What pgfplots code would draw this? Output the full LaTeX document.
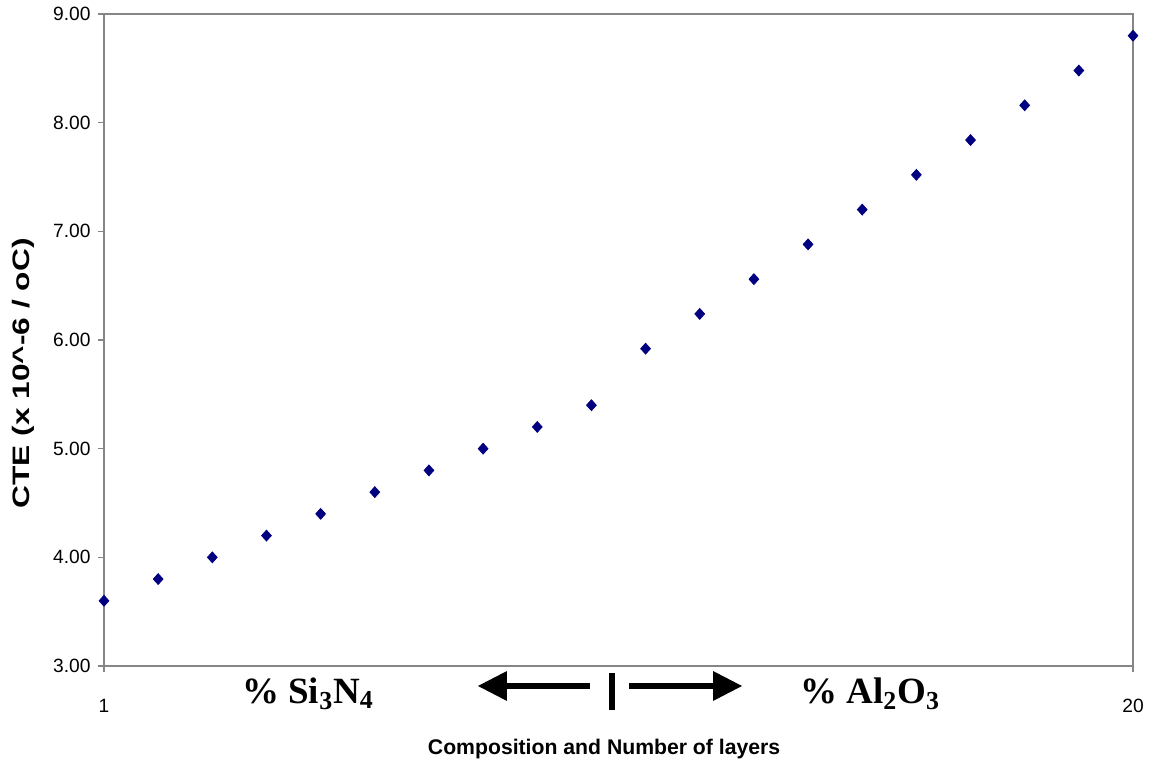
\documentclass[border=0pt]{standalone}
\usepackage{pgfplots}
\pgfplotsset{compat=1.18}
\usepackage{graphicx}
\usepackage{fontspec}
\setmainfont{Liberation Sans}
\newfontfamily\timesfont{Liberation Serif}
\definecolor{navy}{RGB}{0,0,128}
\definecolor{axgray}{RGB}{134,134,134}
\begin{document}
\begin{tikzpicture}
\path[use as bounding box] (-52pt,-51.5pt) rectangle (528pt,333pt);
\begin{axis}[
  at={(0,0)}, anchor=south west,
  scale only axis, width=514.5pt, height=326pt,
  xmin=1, xmax=20, ymin=3, ymax=9,
  xtick={1,20}, ytick={3,4,5,6,7,8,9},
  axis line style={axgray, line width=0.8pt},
  tick style={axgray, line width=0.8pt},
  tick align=outside, tick pos=left,
  major tick length=3.2pt,
  /pgf/number format/assume math mode=true,
  yticklabel style={/pgf/number format/.cd, fixed, fixed zerofill, precision=2},
  ticklabel style={font=\fontsize{9.6}{11}\selectfont},
  xticklabel style={yshift=-10pt},
  xlabel={\textbf{Composition and Number of layers}},
  ylabel={\resizebox{135pt}{\height}{\bfseries CTE (x 10\textasciicircum-6 / oC)}},
  xlabel style={font=\fontsize{10.6}{12}\selectfont, at={(axis description cs:0.486,-0.1365)}, anchor=base},
  ylabel style={font=\fontsize{11.9}{13}\selectfont, at={(axis description cs:-0.0787,0.449)}, anchor=center, rotate=0},
  clip=false,
]
\addplot[only marks, mark=diamond*, mark size=2.7pt, color=navy, mark options={xscale=1.2}] coordinates {
(1,3.60) (2,3.80) (3,4.00) (4,4.20) (5,4.40) (6,4.60) (7,4.80) (8,5.00) (9,5.20) (10,5.40)
(11,5.92) (12,6.24) (13,6.56) (14,6.88) (15,7.20) (16,7.52) (17,7.84) (18,8.16) (19,8.48) (20,8.80)
};
\node[font=\timesfont\bfseries\fontsize{18.5}{20}\selectfont, anchor=center] at (axis cs:4.767,2.745) {\% Si\textsubscript{3}N\textsubscript{4}};
\node[font=\timesfont\bfseries\fontsize{18.5}{20}\selectfont, anchor=center] at (axis cs:15.144,2.745) {\% Al\textsubscript{2}O\textsubscript{3}};
\draw[line width=3pt] (axis cs:9.974,2.816) -- (axis cs:8.40,2.816);
\fill (axis cs:7.906,2.816) -- (axis cs:8.441,2.954) -- (axis cs:8.441,2.678) -- cycle;
\draw[line width=3pt] (axis cs:10.694,2.816) -- (axis cs:12.29,2.816);
\fill (axis cs:12.78,2.816) -- (axis cs:12.245,2.954) -- (axis cs:12.245,2.678) -- cycle;
\draw[line width=3pt] (axis cs:10.38,2.936) -- (axis cs:10.38,2.596);
\end{axis}
\end{tikzpicture}
\end{document}
